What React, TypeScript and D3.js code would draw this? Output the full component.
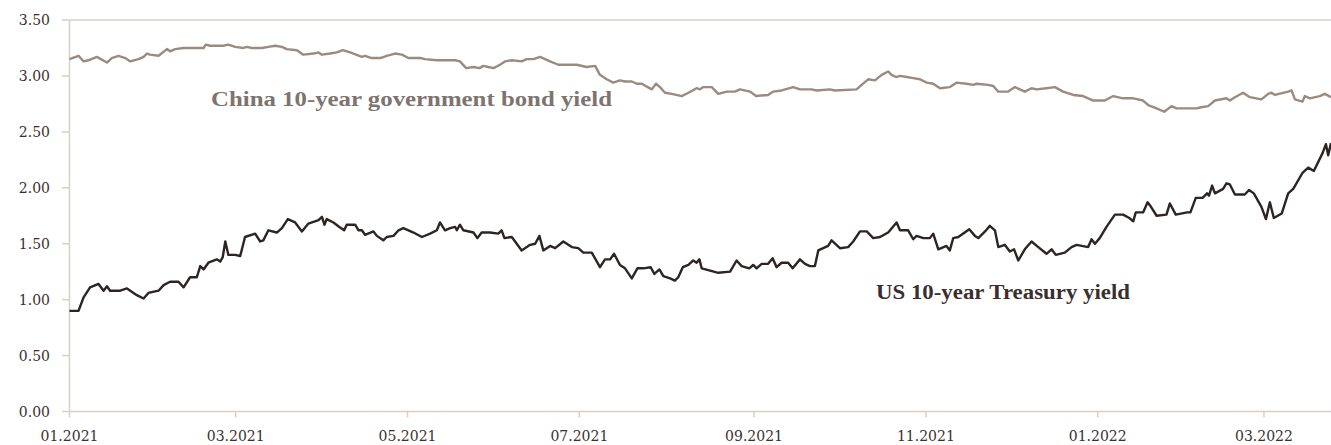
import React from "react";
import * as d3 from "d3";

// Days since 2021-01-01 and yields (%)
const US_DAYS = [0, 3.2, 5, 7.3, 10.3, 12.1, 13.3, 14.4, 18, 20.4, 23.9, 26.3, 28, 31.6, 33.4, 35.7, 38.7, 40.5, 42.8, 45.2, 46.4, 47.6, 49.3, 52.3, 53.5, 54.4, 55.3, 56.4, 58.8, 60.6, 62.3, 65.9, 67.7, 68.8, 70.6, 73.6, 75.4, 77.5, 80.1, 82.5, 84.8, 88.4, 89.6, 90.5, 91.3, 93.7, 95.8, 97.5, 98.4, 101.4, 102.6, 103.8, 104.9, 107.9, 109.1, 111.4, 112.6, 115, 116.8, 118.5, 122.1, 125.1, 128, 130.4, 131.5, 133.3, 135.1, 136.9, 137.5, 138.6, 139.8, 143.4, 144.8, 146.3, 149.3, 152.2, 153.4, 154.4, 157, 160.5, 163.5, 165.3, 166.8, 168.2, 170.6, 172.4, 175.3, 178.3, 180.6, 182.4, 185.4, 187.2, 188.3, 190.1, 191.9, 193.3, 195.4, 197.2, 199.6, 201.6, 203.7, 206.3, 207.6, 209.4, 210.8, 213.2, 214.9, 216.1, 217.7, 219.7, 221.4, 222.6, 223.6, 224.4, 227.4, 230.3, 234.5, 236.8, 238.6, 241.3, 242.7, 243.9, 245.7, 248, 249.6, 251, 252.8, 255.1, 256.7, 259.3, 261.1, 262.8, 264.6, 265.8, 269.3, 270.5, 273.5, 276.4, 278.2, 280.6, 283, 285.3, 287.7, 290.6, 293.6, 294.8, 297.7, 299.5, 300.7, 303.1, 305.4, 306.6, 308.4, 311.3, 312.5, 313.7, 315.5, 319.4, 321.4, 322.6, 325, 326.7, 328.5, 329.7, 332, 333.8, 335.3, 336.8, 339.1, 341.5, 343.9, 346.8, 348.6, 350.1, 353.3, 355.7, 357.5, 361.6, 362.8, 364, 365.7, 368.1, 371.1, 374, 376.2, 377.6, 378.5, 381.1, 382.7, 383.9, 385.9, 389.4, 390.6, 392.7, 396.7, 397.9, 399.8, 402.2, 403.8, 404.5, 405.6, 406.6, 409.5, 410.7, 411.9, 413.7, 417.2, 418.7, 420.4, 423.1, 424.7, 426.1, 427.5, 430.3, 432.6, 434.4, 437.6, 439.7, 441.7, 444.8, 446, 446.8, 447.8];
const US_VALUES = [0.9, 0.9, 1.02, 1.11, 1.14, 1.08, 1.12, 1.08, 1.08, 1.1, 1.04, 1.01, 1.06, 1.08, 1.13, 1.16, 1.16, 1.11, 1.2, 1.2, 1.3, 1.27, 1.33, 1.36, 1.34, 1.38, 1.52, 1.4, 1.4, 1.39, 1.56, 1.59, 1.52, 1.53, 1.62, 1.6, 1.64, 1.72, 1.69, 1.61, 1.68, 1.71, 1.74, 1.67, 1.72, 1.69, 1.65, 1.62, 1.67, 1.67, 1.62, 1.62, 1.58, 1.61, 1.57, 1.53, 1.56, 1.57, 1.62, 1.64, 1.6, 1.56, 1.59, 1.62, 1.69, 1.62, 1.64, 1.65, 1.62, 1.67, 1.62, 1.6, 1.55, 1.6, 1.6, 1.59, 1.62, 1.55, 1.56, 1.44, 1.49, 1.5, 1.57, 1.44, 1.48, 1.46, 1.52, 1.47, 1.46, 1.42, 1.42, 1.34, 1.29, 1.36, 1.36, 1.41, 1.31, 1.28, 1.19, 1.28, 1.28, 1.29, 1.23, 1.27, 1.21, 1.19, 1.17, 1.2, 1.29, 1.31, 1.35, 1.33, 1.36, 1.28, 1.26, 1.24, 1.25, 1.35, 1.3, 1.28, 1.31, 1.28, 1.32, 1.32, 1.37, 1.29, 1.33, 1.33, 1.28, 1.36, 1.32, 1.3, 1.3, 1.44, 1.48, 1.53, 1.46, 1.47, 1.52, 1.61, 1.61, 1.55, 1.56, 1.6, 1.69, 1.62, 1.62, 1.54, 1.57, 1.55, 1.55, 1.59, 1.45, 1.48, 1.44, 1.55, 1.56, 1.63, 1.57, 1.55, 1.61, 1.66, 1.62, 1.47, 1.49, 1.43, 1.45, 1.35, 1.45, 1.52, 1.47, 1.41, 1.45, 1.4, 1.42, 1.47, 1.49, 1.47, 1.54, 1.5, 1.55, 1.65, 1.76, 1.76, 1.73, 1.7, 1.78, 1.78, 1.87, 1.83, 1.75, 1.76, 1.86, 1.76, 1.78, 1.78, 1.91, 1.91, 1.95, 1.93, 2.02, 1.95, 1.99, 2.04, 2.03, 1.94, 1.94, 1.98, 1.95, 1.83, 1.72, 1.87, 1.73, 1.77, 1.95, 1.99, 2.13, 2.18, 2.15, 2.31, 2.39, 2.29, 2.4];

const CN_DAYS = [0, 3.2, 5, 6.7, 9.7, 13.3, 15, 17.4, 19.8, 21.5, 24.5, 26.3, 27.5, 28.6, 31.6, 34.6, 35.7, 37.5, 40.5, 47.6, 48.4, 49.9, 54.6, 56.4, 58.8, 61.7, 63, 64.7, 68.3, 70.6, 73, 75.4, 77.1, 80.7, 83, 86.6, 88.4, 89.6, 92.5, 94.9, 97, 99.6, 103.8, 104.9, 107.3, 110.3, 112.6, 115.6, 118, 120.3, 124.5, 126.2, 130.4, 136.9, 138.6, 140.8, 143.4, 145.5, 146.9, 148.7, 150.5, 152.8, 154.6, 157, 160.5, 162.3, 164.7, 167, 170.6, 173.5, 176.5, 180.1, 183.6, 186.6, 188.3, 190.7, 193, 195.4, 197.2, 199.6, 201.4, 203.1, 206.7, 208.2, 209.6, 211.4, 213.8, 217.3, 219.7, 222.6, 223.8, 225, 228, 230.3, 233.3, 236.2, 238, 241.6, 243.7, 248, 249.8, 252.8, 256.9, 259.3, 263.4, 265.2, 269.9, 271.7, 279.4, 281.2, 283.5, 285.9, 288.3, 290.6, 291.8, 293.4, 294.8, 297.2, 299.5, 301.9, 304.3, 306.6, 309, 312.5, 314.9, 318.4, 320.8, 322, 326.1, 327.9, 329.7, 333.2, 335.6, 339.1, 341.5, 343.3, 346.8, 349.8, 352.7, 356.3, 359.8, 363.4, 367.5, 370.5, 374, 377.6, 381.1, 382.9, 385.9, 388.6, 391.2, 393, 400.1, 401.8, 404.2, 406.6, 410.7, 411.9, 413.7, 416.6, 419, 423.1, 425.5, 426.7, 427.9, 432.6, 433.8, 435, 437.7, 438.5, 440.3, 443.8, 445.6, 447.8];
const CN_VALUES = [3.15, 3.18, 3.13, 3.14, 3.17, 3.12, 3.16, 3.18, 3.16, 3.13, 3.15, 3.17, 3.2, 3.19, 3.18, 3.24, 3.22, 3.24, 3.25, 3.25, 3.28, 3.27, 3.27, 3.28, 3.26, 3.25, 3.26, 3.25, 3.25, 3.26, 3.27, 3.26, 3.24, 3.23, 3.19, 3.2, 3.21, 3.19, 3.2, 3.21, 3.23, 3.21, 3.17, 3.18, 3.16, 3.16, 3.18, 3.2, 3.19, 3.16, 3.16, 3.15, 3.14, 3.14, 3.13, 3.07, 3.08, 3.07, 3.09, 3.08, 3.07, 3.1, 3.13, 3.14, 3.13, 3.15, 3.15, 3.17, 3.13, 3.1, 3.1, 3.1, 3.08, 3.09, 3.01, 2.97, 2.94, 2.96, 2.95, 2.95, 2.93, 2.93, 2.88, 2.93, 2.9, 2.85, 2.84, 2.82, 2.85, 2.89, 2.88, 2.9, 2.9, 2.84, 2.86, 2.86, 2.88, 2.86, 2.82, 2.83, 2.86, 2.87, 2.9, 2.88, 2.88, 2.87, 2.88, 2.87, 2.88, 2.92, 2.97, 2.96, 3.01, 3.04, 3.01, 2.99, 3.0, 2.99, 2.98, 2.97, 2.94, 2.93, 2.89, 2.9, 2.94, 2.93, 2.92, 2.93, 2.92, 2.91, 2.86, 2.86, 2.9, 2.86, 2.89, 2.88, 2.89, 2.9, 2.86, 2.83, 2.82, 2.78, 2.78, 2.82, 2.8, 2.8, 2.78, 2.74, 2.71, 2.68, 2.73, 2.71, 2.71, 2.72, 2.73, 2.78, 2.8, 2.78, 2.81, 2.85, 2.81, 2.79, 2.84, 2.85, 2.83, 2.86, 2.87, 2.79, 2.77, 2.82, 2.8, 2.82, 2.84, 2.81];

const Y_TICKS = [0, 0.5, 1, 1.5, 2, 2.5, 3, 3.5];
const CN_LABEL = "China 10-year government bond yield";
const US_LABEL = "US 10-year Treasury yield";

const START = Date.UTC(2021, 0, 1);
const END_DAY = 447.8;
const dayToDate = (d: number) => new Date(START + d * 864e5);

const W = 1331;
const H = 445;
const LABEL_FONT = "'Liberation Serif', 'DejaVu Serif', serif";
const TICK_FONT = "'DejaVu Serif', 'Liberation Serif', serif";

export default function App() {
  const x = d3.scaleUtc().domain([dayToDate(0), dayToDate(END_DAY)]).range([69.5, 1331]);
  const y = d3.scaleLinear().domain([0, 3.5]).range([411.5, 20]);

  const line = d3
    .line<[number, number]>()
    .x((d) => x(dayToDate(d[0])))
    .y((d) => y(d[1]));

  const us = US_DAYS.map((d, i) => [d, US_VALUES[i]] as [number, number]);
  const cn = CN_DAYS.map((d, i) => [d, CN_VALUES[i]] as [number, number]);

  const xTicks = d3.utcMonth.every(2)!.range(dayToDate(0), dayToDate(END_DAY));
  const fmt = d3.utcFormat("%m.%Y");
  const axisColor = "#d8cfca";
  const tickColor = "#3a302e";

  return (
    <>
      <style>{`body{margin:0}`}</style>
      <svg width={W} height={H} style={{ display: "block" }}>
        <rect width={W} height={H} fill="#fff" />
        <line x1={x.range()[0]} x2={W} y1={y(3.5)} y2={y(3.5)} stroke={axisColor} strokeWidth={1.5} />
        <line x1={x.range()[0]} x2={x.range()[0]} y1={y(3.5)} y2={y(0)} stroke={axisColor} strokeWidth={1.5} />
        {Y_TICKS.map((t) => (
          <g key={t}>
            <line x1={62} x2={x.range()[0]} y1={y(t)} y2={y(t)} stroke={axisColor} strokeWidth={1.5} />
            <text x={50} y={y(t)} dy="0.38em" textAnchor="end" fontSize={14} fontFamily={TICK_FONT} fill={tickColor}>
              {t.toFixed(2)}
            </text>
          </g>
        ))}
        <line x1={x.range()[0]} x2={W} y1={y(0)} y2={y(0)} stroke={axisColor} strokeWidth={1.5} />
        {xTicks.map((t) => (
          <g key={t.getTime()}>
            <line x1={x(t)} x2={x(t)} y1={y(0)} y2={y(0) + 6} stroke={axisColor} strokeWidth={1.5} />
            <text x={x(t)} y={441} textAnchor="middle" fontSize={14} fontFamily={TICK_FONT} fill={tickColor}>
              {fmt(t)}
            </text>
          </g>
        ))}
        <path d={line(cn) || ""} fill="none" stroke="#9a8b81" strokeWidth={2.4} strokeLinejoin="round" />
        <path d={line(us) || ""} fill="none" stroke="#2f2424" strokeWidth={2.4} strokeLinejoin="round" />
        <text x={211} y={106} fontSize={20} fontWeight="bold" fontFamily={LABEL_FONT} fill="#7d7470" textLength={401} lengthAdjust="spacingAndGlyphs">
          {CN_LABEL}
        </text>
        <text x={876} y={299} fontSize={20} fontWeight="bold" fontFamily={LABEL_FONT} fill="#3a2f2e" textLength={254} lengthAdjust="spacingAndGlyphs">
          {US_LABEL}
        </text>
      </svg>
    </>
  );
}
